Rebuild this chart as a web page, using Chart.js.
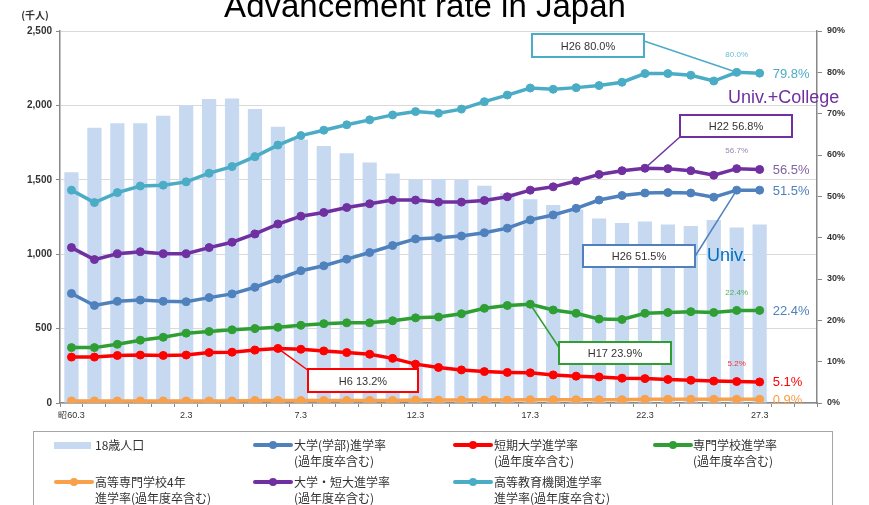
<!DOCTYPE html>
<html>
<head>
<meta charset="utf-8">
<script src="https://cdn.jsdelivr.net/npm/chart.js@4"></script>
<style>
  body { margin: 0; background: #fff; }
  #wrap { position: relative; width: 869px; height: 505px; overflow: hidden; }
  #myChart { position: absolute; left: 0; top: 0; }
  #legend { position: absolute; left: 33px; top: 431px; width: 800px; height: 90px;
            border: 1px solid #a6a6a6; box-sizing: border-box;
            font-family: "Noto Sans CJK JP", sans-serif; }
  .item { position: absolute; font-size: 12px; line-height: 16px; color: #333; white-space: nowrap; }
  .sw { position: absolute; }
  .sw .ln { position: absolute; left: 0; top: 6px; width: 40px; height: 4px; border-radius: 2px; }
  .sw .dot { position: absolute; left: 16px; top: 4px; width: 8px; height: 8px; border-radius: 4px; }
  .sw .bar { position: absolute; left: 0; top: 5px; width: 37px; height: 7px; background: #c6d9f1; }
</style>
</head>
<body>
<div id="wrap">
  <canvas id="myChart" width="869" height="505"></canvas>
  <div id="legend"></div>
</div>
<script>
// 年（3月）
const years = ['昭60.3', '61.3', '62.3', '63.3', '元.3', '2.3', '3.3', '4.3', '5.3', '6.3',
               '7.3', '8.3', '9.3', '10.3', '11.3', '12.3', '13.3', '14.3', '15.3', '16.3',
               '17.3', '18.3', '19.3', '20.3', '21.3', '22.3', '23.3', '24.3', '25.3', '26.3', '27.3'];
const blankSlots = 2;

// 18歳人口（千人）
const population = [1550, 1850, 1880, 1880, 1930, 2000, 2043, 2046, 1976, 1857,
                    1770, 1727, 1678, 1617, 1543, 1505, 1505, 1500, 1460, 1410,
                    1370, 1330, 1300, 1240, 1210, 1220, 1200, 1190, 1230, 1180, 1200];

// 進学率（%）
const higherEdRate = [51.5, 48.5, 50.9, 52.5, 52.7, 53.5, 55.6, 57.2, 59.6, 62.4,
                      64.7, 66.0, 67.3, 68.5, 69.7, 70.5, 70.1, 71.1, 72.9, 74.5,
                      76.2, 75.9, 76.3, 76.8, 77.6, 79.7, 79.7, 79.3, 77.9, 80.0, 79.8];
const univCollegeRate = [37.6, 34.7, 36.1, 36.6, 36.1, 36.1, 37.6, 38.9, 40.9, 43.3,
                         45.2, 46.1, 47.3, 48.2, 49.1, 49.1, 48.6, 48.6, 49.0, 49.9,
                         51.5, 52.3, 53.7, 55.3, 56.2, 56.8, 56.7, 56.2, 55.1, 56.7, 56.5];
const univRate = [26.5, 23.6, 24.6, 24.9, 24.6, 24.5, 25.5, 26.4, 28.0, 30.0,
                  32.0, 33.2, 34.8, 36.4, 38.1, 39.7, 40.0, 40.4, 41.2, 42.3,
                  44.3, 45.5, 47.1, 49.1, 50.2, 50.8, 50.9, 50.8, 49.8, 51.5, 51.5];
const vocationalRate = [13.4, 13.4, 14.2, 15.2, 15.9, 16.9, 17.3, 17.7, 18.0, 18.3,
                        18.8, 19.2, 19.4, 19.4, 19.9, 20.6, 20.8, 21.6, 22.9, 23.6,
                        23.9, 22.5, 21.7, 20.3, 20.2, 21.7, 21.9, 22.1, 21.9, 22.4, 22.4];
const juniorRate = [11.1, 11.1, 11.5, 11.6, 11.5, 11.6, 12.2, 12.3, 12.8, 13.2,
                    13.0, 12.6, 12.2, 11.8, 10.8, 9.4, 8.6, 8.0, 7.6, 7.4,
                    7.3, 6.8, 6.5, 6.3, 6.0, 5.9, 5.7, 5.5, 5.3, 5.2, 5.1];
const kosenRate = [0.5, 0.5, 0.5, 0.5, 0.5, 0.5, 0.5, 0.5, 0.6, 0.6,
                   0.6, 0.6, 0.6, 0.6, 0.6, 0.7, 0.7, 0.7, 0.7, 0.7,
                   0.8, 0.8, 0.8, 0.8, 0.8, 0.9, 0.9, 0.9, 0.9, 0.9, 0.9];

const pad = arr => arr.concat(new Array(blankSlots).fill(null));
const labels = pad(years).map(v => v === null ? '' : v);

// 折れ線
const series = [
  { name: '高等教育機関進学率', values: higherEdRate, color: '#4bacc6', endColor: '#4bacc6', smallColor: '#4bacc6' },
  { name: '大学・短大進学率', values: univCollegeRate, color: '#7030a0', endColor: '#8064a2', smallColor: '#8064a2' },
  { name: '大学(学部)進学率', values: univRate, color: '#4f81bd', endColor: '#4f81bd', smallColor: null },
  { name: '専門学校進学率', values: vocationalRate, color: '#2f9e33', endColor: '#4f81bd', smallColor: '#2f9e33' },
  { name: '短期大学進学率', values: juniorRate, color: '#ff0000', endColor: '#ff0000', smallColor: '#ff0000' },
  { name: '高等専門学校4年', values: kosenRate, color: '#f8a04a', endColor: '#f8a04a', smallColor: null }
];

// 吹き出し（系列番号, 年の位置, 枠）
const callouts = [
  { s: 0, i: 29, box: [532, 34, 644, 57], from: [644, 41] },
  { s: 1, i: 25, box: [680, 115, 792, 137], from: [681, 136] },
  { s: 2, i: 29, box: [583, 245, 695, 267], from: [694, 258] },
  { s: 3, i: 20, box: [559, 342, 671, 364], from: [560, 349] },
  { s: 4, i: 9, box: [308, 369, 418, 392], from: [309, 371] }
];

const datasets = series.map((s, k) => ({
  type: 'line',
  label: s.name,
  data: pad(s.values),
  yAxisID: 'y2',
  borderColor: s.color,
  backgroundColor: s.color,
  borderWidth: 3.5,
  pointRadius: 4,
  pointBorderWidth: 1,
  pointBackgroundColor: s.color,
  pointBorderColor: s.color,
  tension: 0,
  order: 1 + k
}));
datasets.push({
  type: 'bar',
  label: '18歳人口',
  data: pad(population),
  yAxisID: 'y',
  backgroundColor: '#c6d9f1',
  barPercentage: 0.62,
  categoryPercentage: 1.0,
  order: 20
});

const decor = {
  id: 'decor',
  afterDraw(chart) {
    const ctx = chart.ctx;
    const x = chart.scales.x, y2 = chart.scales.y2;
    const pt = (s, i) => [x.getPixelForValue(i), y2.getPixelForValue(series[s].values[i])];
    ctx.save();
    // タイトル
    ctx.fillStyle = '#000';
    ctx.font = '33px "Liberation Sans", Arial, sans-serif';
    ctx.textAlign = 'center';
    ctx.textBaseline = 'alphabetic';
    ctx.fillText('Advancement rate in Japan', 425, 17);
    // 単位
    ctx.fillStyle = '#333';
    ctx.font = 'bold 10px "Noto Sans CJK JP", sans-serif';
    ctx.textBaseline = 'middle';
    ctx.fillText('(千人)', 35, 15);

    // 吹き出し
    callouts.forEach(c => {
      const s = series[c.s];
      const [px, py] = pt(c.s, c.i);
      ctx.strokeStyle = s.color;
      ctx.lineWidth = 1.5;
      ctx.beginPath();
      ctx.moveTo(c.from[0], c.from[1]);
      ctx.lineTo(px, py);
      ctx.stroke();
      const [x0, y0, x1, y1] = c.box;
      ctx.fillStyle = '#fff';
      ctx.fillRect(x0, y0, x1 - x0, y1 - y0);
      ctx.lineWidth = 2;
      ctx.strokeRect(x0, y0, x1 - x0, y1 - y0);
      ctx.fillStyle = '#333';
      ctx.font = '11px "Liberation Sans", Arial, sans-serif';
      ctx.textAlign = 'center';
      ctx.fillText('H' + (c.i - 3) + ' ' + s.values[c.i].toFixed(1) + '%', (x0 + x1) / 2, (y0 + y1) / 2 + 1);
    });

    // 末尾の値と前年の値
    const last = years.length - 1;
    series.forEach((s, k) => {
      const [px, py] = pt(k, last);
      ctx.fillStyle = s.endColor;
      ctx.font = '13px "Liberation Sans", Arial, sans-serif';
      ctx.textAlign = 'left';
      ctx.fillText(s.values[last].toFixed(1) + '%', px + 13, py + 1);
      if (s.smallColor) {
        const [qx, qy] = pt(k, last - 1);
        ctx.globalAlpha = 0.8;
        ctx.fillStyle = s.smallColor;
        ctx.font = '8px "Liberation Sans", Arial, sans-serif';
        ctx.textAlign = 'center';
        ctx.fillText(s.values[last - 1].toFixed(1) + '%', qx, qy - 18);
        ctx.globalAlpha = 1;
      }
    });

    // 英語ラベル
    ctx.font = '18px "Liberation Sans", Arial, sans-serif';
    ctx.textAlign = 'left';
    ctx.fillStyle = '#7030a0';
    ctx.fillText('Univ.+College', 728, 98);
    ctx.fillStyle = '#0070c0';
    ctx.fillText('Univ.', 707, 256);
    ctx.restore();
  }
};

const tickFont = { family: '"Liberation Sans", Arial, sans-serif', size: 9 };

const config = {
  data: { labels: labels, datasets: datasets },
  options: {
    responsive: false,
    animation: false,
    layout: { padding: { top: 31, left: 0, right: 0, bottom: 0 } },
    plugins: { legend: { display: false }, tooltip: { enabled: false } },
    scales: {
      x: {
        offset: true,
        grid: { drawOnChartArea: false, tickLength: 4, color: '#888', offset: true },
        border: { color: '#888', width: 1.5 },
        ticks: {
          autoSkip: false, maxRotation: 0, minRotation: 0, padding: 3,
          color: '#333', font: tickFont,
          callback: (v, i) => (i % 5 === 0 && i < years.length) ? years[i] : ''
        },
        afterFit: s => { s.height = 102; }
      },
      y: {
        position: 'left',
        min: 0, max: 2500,
        grid: { color: '#d9d9d9', tickColor: '#888', tickLength: 4 },
        border: { color: '#888', width: 1.5 },
        ticks: {
          stepSize: 500, padding: 4, color: '#333',
          font: { family: '"Liberation Sans", Arial, sans-serif', size: 10, weight: 'bold' },
          callback: v => v.toLocaleString('en-US')
        },
        afterFit: s => { s.width = 60; }
      },
      y2: {
        position: 'right',
        min: 0, max: 90,
        grid: { drawOnChartArea: false, color: '#888', tickLength: 5 },
        border: { color: '#888', width: 1.5 },
        ticks: {
          stepSize: 10, padding: 5, color: '#333',
          font: { family: '"Liberation Sans", Arial, sans-serif', size: 9, weight: 'bold' },
          callback: v => v + '%'
        },
        afterFit: s => { s.width = 52; }
      }
    }
  },
  plugins: [decor]
};

new Chart(document.getElementById('myChart'), config);

// 凡例
const legendItems = [
  { text: '18歳人口', bar: true, col: 0, row: 0 },
  { text: '大学(学部)進学率<br>(過年度卒含む)', color: '#4f81bd', col: 1, row: 0 },
  { text: '短期大学進学率<br>(過年度卒含む)', color: '#ff0000', col: 2, row: 0 },
  { text: '専門学校進学率<br>(過年度卒含む)', color: '#2f9e33', col: 3, row: 0 },
  { text: '高等専門学校4年<br>進学率(過年度卒含む)', color: '#f8a04a', col: 0, row: 1 },
  { text: '大学・短大進学率<br>(過年度卒含む)', color: '#7030a0', col: 1, row: 1 },
  { text: '高等教育機関進学率<br>進学率(過年度卒含む)', color: '#4bacc6', col: 2, row: 1 }
];
const swX = [20, 219, 419, 619], txX = [61, 260, 460, 659], rowY = [5, 42];
const legend = document.getElementById('legend');
legendItems.forEach(it => {
  const sw = document.createElement('div');
  sw.className = 'sw';
  sw.style.left = swX[it.col] + 'px';
  sw.style.top = rowY[it.row] + 'px';
  sw.innerHTML = it.bar ? '<div class="bar"></div>'
    : '<div class="ln" style="background:' + it.color + '"></div><div class="dot" style="background:' + it.color + '"></div>';
  legend.appendChild(sw);
  const tx = document.createElement('div');
  tx.className = 'item';
  tx.style.left = txX[it.col] + 'px';
  tx.style.top = rowY[it.row] + 'px';
  tx.innerHTML = it.text;
  legend.appendChild(tx);
});
</script>
</body>
</html>
